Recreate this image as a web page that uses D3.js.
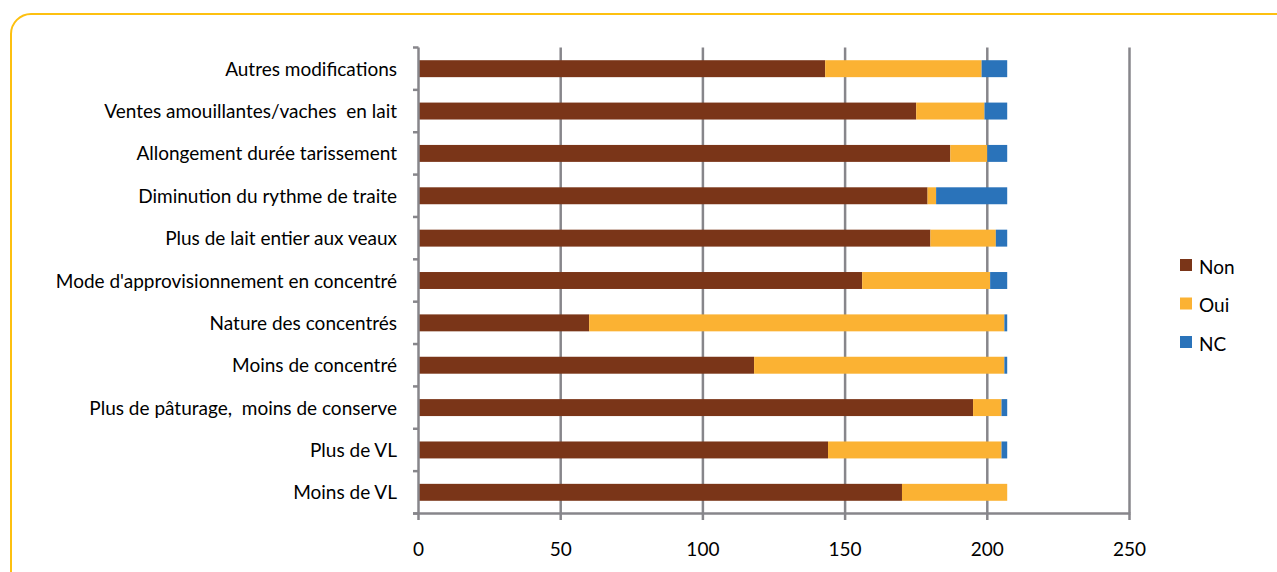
<!DOCTYPE html>
<html><head><meta charset="utf-8">
<script src="https://cdn.jsdelivr.net/npm/d3@7"></script>
<style>
html,body{margin:0;padding:0;background:#fff;}
svg{display:block;font-family:Lato,"Open Sans",sans-serif;}
text{white-space:pre;}
</style></head>
<body>
<svg id="c" width="1277" height="572"></svg>
<script>
const categories = [
  "Autres modifications",
  "Ventes amouillantes/vaches  en lait",
  "Allongement durée tarissement",
  "Diminution du rythme de traite",
  "Plus de lait entier aux veaux",
  "Mode d'approvisionnement en concentré",
  "Nature des concentrés",
  "Moins de concentré",
  "Plus de pâturage,  moins de conserve",
  "Plus de VL",
  "Moins de VL"
];
const seriesNames = ["Non", "Oui", "NC"];
const nonValues = [143, 175, 187, 179, 180, 156, 60, 118, 195, 144, 170];
const ouiValues = [55, 24, 13, 3, 23, 45, 146, 88, 10, 61, 37];
const ncValues  = [9, 8, 7, 25, 4, 6, 1, 1, 2, 2, 0];
const xTicks = [0, 50, 100, 150, 200, 250];
const colors = ["#7a3518", "#fbb233", "#2a73ba"];
const FS = 19;

const svg = d3.select("#c");
// frame
svg.append("rect").attr("x", 11).attr("y", 14).attr("width", 1300).attr("height", 600)
  .attr("rx", 20).attr("ry", 20).attr("fill", "none").attr("stroke", "#fdc010").attr("stroke-width", 2);

const x = d3.scaleLinear().domain([0, 250]).range([418.5, 1129.5]);
const y = d3.scaleBand().domain(categories).range([47.5, 513.5]).paddingInner(0.6).paddingOuter(0.3);

const grey = "#87868b";
const g = svg.append("g");
// gridlines
g.selectAll("line.grid").data(xTicks.slice(1)).join("line")
  .attr("x1", d => x(d)).attr("x2", d => x(d)).attr("y1", 47.5).attr("y2", 513.5)
  .attr("stroke", grey).attr("stroke-width", 2.5);

// stacked bars
const rows = categories.map((c, i) => ({cat: c, Non: nonValues[i], Oui: ouiValues[i], NC: ncValues[i]}));
const stack = d3.stack().keys(seriesNames)(rows);
stack.forEach((s, si) => {
  g.selectAll("rect.s" + si).data(s).join("rect")
    .attr("x", d => x(d[0])).attr("width", d => x(d[1]) - x(d[0]))
    .attr("y", d => y(d.data.cat)).attr("height", y.bandwidth())
    .attr("fill", colors[si]);
});

// left axis
const step = (513.5 - 47.5) / categories.length;
g.append("line").attr("x1", 418.5).attr("x2", 418.5).attr("y1", 47.5).attr("y2", 513.5)
  .attr("stroke", grey).attr("stroke-width", 2.5);
d3.range(categories.length + 1).forEach(i => {
  g.append("line").attr("x1", 413).attr("x2", 418.5).attr("y1", 47.5 + i * step).attr("y2", 47.5 + i * step)
    .attr("stroke", grey).attr("stroke-width", 2.5);
});
// bottom axis
g.append("line").attr("x1", 413).attr("x2", 1130.5).attr("y1", 513.5).attr("y2", 513.5)
  .attr("stroke", grey).attr("stroke-width", 2.5);
g.selectAll("line.xt").data(xTicks).join("line")
  .attr("x1", d => x(d)).attr("x2", d => x(d)).attr("y1", 513.5).attr("y2", 520)
  .attr("stroke", grey).attr("stroke-width", 2.5);
g.selectAll("text.xl").data(xTicks).join("text")
  .attr("x", d => x(d)).attr("y", 556).attr("text-anchor", "middle")
  .attr("font-size", FS).attr("fill", "#000").text(d => d);

// category labels
g.selectAll("text.cl").data(categories).join("text")
  .attr("x", 397).attr("y", d => y(d) + y.bandwidth() / 2 + 7)
  .attr("text-anchor", "end").attr("font-size", FS).attr("fill", "#000").text(d => d);

// legend
const lg = svg.append("g");
seriesNames.forEach((n, i) => {
  lg.append("rect").attr("x", 1180).attr("y", 259 + i * 38.5).attr("width", 12).attr("height", 12).attr("fill", colors[i]);
  lg.append("text").attr("x", 1199).attr("y", 273.5 + i * 38.5).attr("font-size", FS).attr("fill", "#000").text(n);
});
</script>
</body></html>
